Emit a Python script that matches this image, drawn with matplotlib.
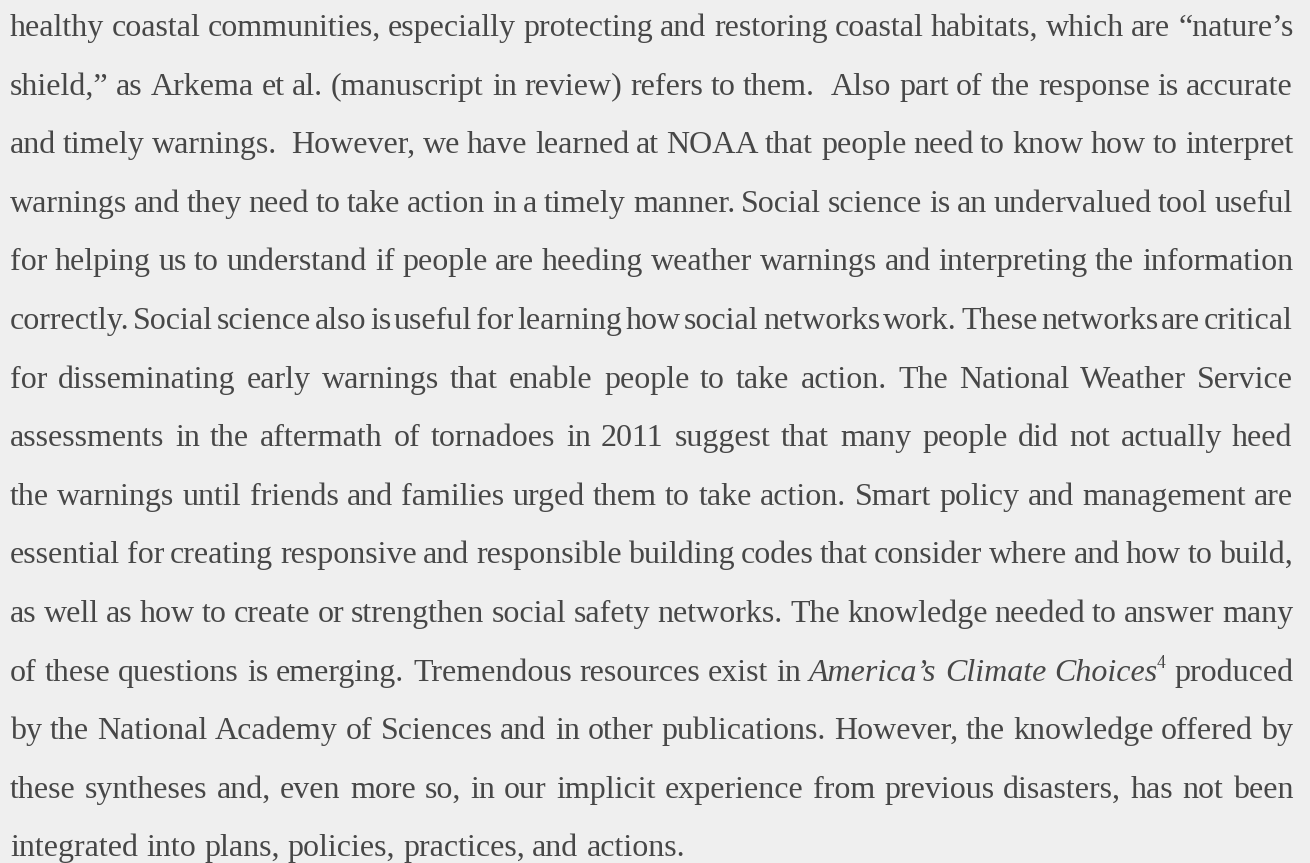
import math

import matplotlib.pyplot as plt
from matplotlib.font_manager import FontProperties
from matplotlib.backends.backend_agg import get_hinting_flag

# paragraph lines as set in the page (15 justified lines, last one ragged)
# "*" marks an italic word, "^" starts a superscript
LINES = [
    "healthy coastal communities, especially protecting and restoring coastal habitats, which are \u201cnature\u2019s",
    "shield,\u201d as Arkema et al. (manuscript in review) refers to them.  Also part of the response is accurate",
    "and timely warnings.  However, we have learned at NOAA that people need to know how to interpret",
    "warnings and they need to take action in a timely manner. Social science is an undervalued tool useful",
    "for helping us to understand if people are heeding weather warnings and interpreting the information",
    "correctly. Social science also is useful for learning how social networks work. These networks are critical",
    "for disseminating early warnings that enable people to take action. The National Weather Service",
    "assessments in the aftermath of tornadoes in 2011 suggest that many people did not actually heed",
    "the warnings until friends and families urged them to take action. Smart policy and management are",
    "essential for creating responsive and responsible building codes that consider where and how to build,",
    "as well as how to create or strengthen social safety networks. The knowledge needed to answer many",
    "of these questions is emerging. Tremendous resources exist in *America\u2019s *Climate *Choices^4 produced",
    "by the National Academy of Sciences and in other publications. However, the knowledge offered by",
    "these syntheses and, even more so, in our implicit experience from previous disasters, has not been",
    "integrated into plans, policies, practices, and actions.",
]

FONT = "Liberation Serif"
SIZE = 23
INK = "#474747"
PAPER = "#efefef"
LEFT, RIGHT = 10, 1293
FIRST_BASELINE = 36
LEAD = 58.6


def pieces(word):
    italic = word.startswith("*")
    word = word.lstrip("*")
    if "^" in word:
        base, sup = word.split("^")
        return [(base, italic, 1.0, 0.0), (sup, False, 0.55, 0.4)]
    return [(word, italic, 1.0, 0.0)]


fig = plt.figure(figsize=(13.1, 8.63), dpi=100, facecolor=PAPER)
ax = fig.add_axes([0, 0, 1, 1])
ax.set_xlim(0, 1310)
ax.set_ylim(863, 0)
ax.axis("off")
renderer = fig.canvas.get_renderer()


def width(t):
    if not t.get_text():
        return 0.0
    return t.get_window_extent(renderer).width


def snap_baseline(txt, ital, scale, target):
    # Agg rounds each word's bitmap by its own descent; pick the integer y
    # that lands this word's baseline on the target pixel row
    try:
        prop = FontProperties(family=FONT, size=SIZE * scale,
                              style="italic" if ital else "normal")
        font = renderer._prepare_font(prop)
        font.set_text(txt, 0, flags=get_hinting_flag())
        _, h26 = font.get_width_height()
        d26 = font.get_descent()
        d = d26 / 64
        ymax = math.floor((h26 - d26) / 64)
        hpx = h26 // 64
        for y in sorted(range(target - 3, target + 4), key=lambda v: abs(v - target)):
            if round(y + d) - hpx + ymax == target:
                return y
        return target
    except Exception:
        return target


p1 = ax.text(0, 0, "a a", fontsize=SIZE, family=FONT)
p2 = ax.text(0, 0, "aa", fontsize=SIZE, family=FONT)
space = width(p1) - width(p2)
p1.remove()
p2.remove()

for i, line in enumerate(LINES):
    y = round(FIRST_BASELINE + i * LEAD)
    items = []
    for w in line.split(" "):
        arts = []
        for txt, ital, scale, rise in pieces(w):
            t = ax.text(0, y, txt, fontsize=SIZE * scale, family=FONT,
                        style="italic" if ital else "normal",
                        color=INK, va="baseline", ha="left")
            arts.append((t, txt, ital, scale, rise))
        items.append(arts)
    widths = [sum(width(a[0]) for a in arts) for arts in items]
    if i == len(LINES) - 1:
        gap = space
    else:
        gap = (RIGHT - LEFT - sum(widths)) / (len(items) - 1)
    x = LEFT
    for arts, w in zip(items, widths):
        xx = x
        for t, txt, ital, scale, rise in arts:
            target = round(y - rise * SIZE * 100 / 72)
            yy = snap_baseline(txt, ital, scale, target) if txt else target
            t.set_position((round(xx), yy))
            xx += width(t)
        x += w + gap

fig.savefig("out.png", dpi=100, facecolor=PAPER)
